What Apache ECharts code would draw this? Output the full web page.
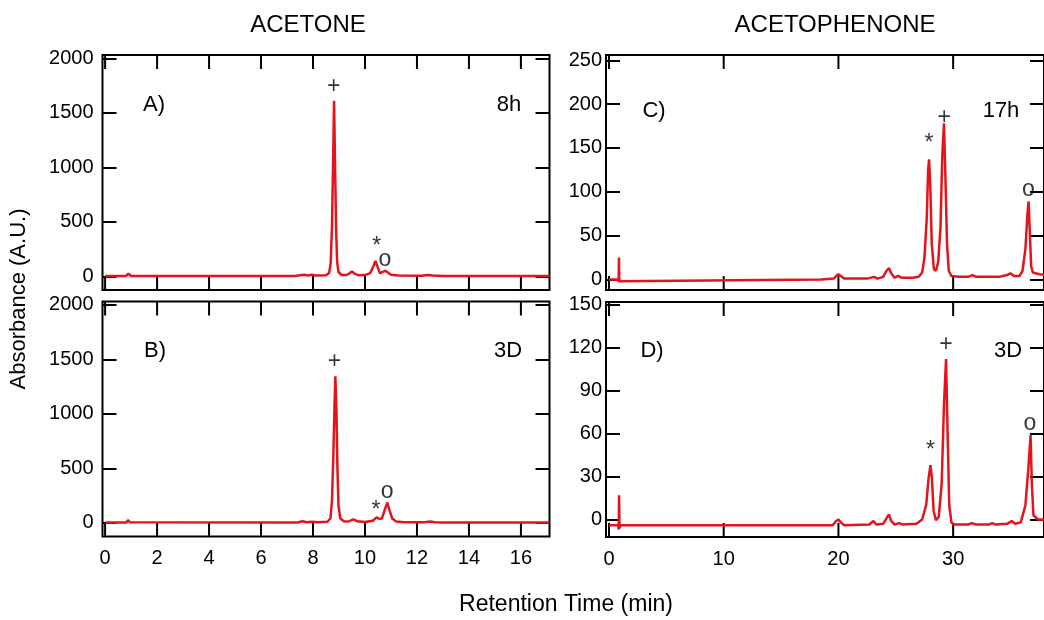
<!DOCTYPE html>
<html>
<head>
<meta charset="utf-8">
<script src="https://cdn.jsdelivr.net/npm/echarts@6/dist/echarts.min.js"></script>
<style>
  html, body { margin: 0; padding: 0; background: #fff; }
  #chart { width: 1044px; height: 620px; }
</style>
</head>
<body>
<div id="chart"></div>
<script>
// HPLC traces: [retention time (min), absorbance (A.U.)]
const acetone8h = [
  [0, 3], [0.8, 3], [0.85, 10], [0.9, 25], [0.95, 10], [1.0, 3],
  [7.3, 3], [7.5, 10], [7.65, 14], [7.8, 8], [7.95, 14], [8.1, 8], [8.5, 10],
  [8.62, 30], [8.68, 120], [8.73, 450], [8.77, 1000], [8.81, 1610], [8.85, 1000],
  [8.89, 420], [8.93, 130], [8.98, 40], [9.1, 12], [9.3, 12], [9.42, 30], [9.5, 45],
  [9.6, 25], [9.75, 10], [10.0, 12], [10.2, 30], [10.32, 90], [10.4, 141], [10.48, 90],
  [10.57, 30], [10.68, 40], [10.78, 52], [10.88, 35], [11.0, 15], [11.3, 8],
  [12.2, 6], [12.4, 12], [12.6, 8], [13.0, 3], [17.1, 3]
];
const acetone3d = [
  [0, 3], [0.82, 3], [0.88, 25], [0.95, 5], [1.0, 3],
  [7.4, 3], [7.6, 14], [7.75, 6], [7.95, 10], [8.2, 6], [8.55, 10],
  [8.67, 40], [8.73, 200], [8.78, 600], [8.83, 1100], [8.86, 1345], [8.9, 1050],
  [8.94, 500], [8.98, 160], [9.05, 40], [9.2, 12], [9.4, 15], [9.55, 32], [9.7, 15],
  [10.0, 8], [10.3, 20], [10.45, 50], [10.55, 35], [10.65, 40], [10.76, 120],
  [10.86, 185], [10.95, 110], [11.05, 40], [11.2, 12], [11.5, 5],
  [12.3, 5], [12.5, 12], [12.7, 5], [13.0, 3], [17.1, 3]
];
const acetophenone17h = [
  [0, 0], [0.8, 0], [0.84, -3], [0.87, 25], [0.9, -2], [0.95, 0],
  [18.5, 0], [19.6, 1], [19.8, 4], [20.0, 6], [20.2, 4], [20.5, 1],
  [22.5, 1], [23.1, 3], [23.4, 1], [23.9, 3], [24.2, 10], [24.4, 13], [24.6, 7],
  [24.9, 2], [25.2, 4], [25.5, 2], [26.5, 2], [27.0, 3], [27.3, 8], [27.5, 25],
  [27.7, 70], [27.82, 125], [27.9, 137], [28.0, 110], [28.14, 40], [28.32, 12],
  [28.5, 10], [28.7, 20], [28.9, 60], [29.05, 140], [29.2, 178], [29.32, 120],
  [29.47, 40], [29.62, 10], [29.85, 4], [30.5, 3], [31.3, 3], [31.7, 5], [32.0, 3],
  [34.0, 3], [34.7, 5], [35.0, 7], [35.3, 4], [35.8, 4], [36.05, 10], [36.3, 35],
  [36.48, 75], [36.58, 89], [36.68, 55], [36.8, 15], [36.95, 8], [37.5, 6], [38.1, 5]
];
const acetophenone3d = [
  [0, -4], [0.8, -4], [0.85, -7], [0.88, 17], [0.92, -6], [1.0, -4],
  [19.5, -4], [19.8, -1], [20.0, 0], [20.2, -2], [20.5, -4],
  [22.7, -3.5], [23.05, -1], [23.3, -3.5], [23.9, -3], [24.2, 1], [24.4, 3.5],
  [24.6, -1], [24.9, -3.5], [25.3, -2.5], [25.6, -3.5], [26.8, -3], [27.3, 0],
  [27.65, 10], [27.85, 28], [28.02, 38], [28.14, 30], [28.3, 6], [28.5, -0.5],
  [28.75, 2], [29.0, 25], [29.2, 80], [29.38, 112], [29.52, 60], [29.66, 10],
  [29.85, -2], [30.1, -3.5], [31.3, -3.5], [31.6, -2.5], [32.0, -3.5],
  [33.1, -3.5], [33.4, -2.5], [33.7, -3.5], [34.7, -3], [35.1, -1], [35.4, -3],
  [35.9, -2], [36.3, 10], [36.55, 35], [36.75, 59], [36.86, 25], [37.0, 3],
  [37.4, 0], [38.1, 0]
];

// Peak markers: [symbol, time, absorbance]
const marksA = [['+', 8.8, 1740], ['*', 10.45, 275], ['o', 10.77, 150]];
const marksB = [['+', 8.83, 1480], ['*', 10.42, 115], ['o', 10.85, 290]];
const marksC = [['*', 27.9, 155], ['+', 29.22, 185], ['o', 36.55, 102]];
const marksD = [['*', 28.02, 48], ['+', 29.38, 122], ['o', 36.7, 67]];

// Tick values
const acetoneTimeTicks = [0, 2, 4, 6, 8, 10, 12, 14, 16];
const acetoneAbsTicks = [0, 500, 1000, 1500, 2000];
const acetophenoneTimeTicks = [0, 10, 20, 30];
const acetophenone17hAbsTicks = [0, 50, 100, 150, 200, 250];
const acetophenone3dAbsTicks = [0, 30, 60, 90, 120, 150];

// Text
const columnTitles = ['ACETONE', 'ACETOPHENONE'];
const panelTags = ['A)', 'B)', 'C)', 'D)'];
const panelTimes = ['8h', '3D', '17h', '3D'];
const xTitle = 'Retention Time (min)';
const yTitle = 'Absorbance (A.U.)';

const FONT = '"Liberation Sans", Arial, Helvetica, sans-serif';
const RED = '#e3141c';
const INK = '#000';
const TICK = 14;

const panels = [
  { grid: { left: 102.5, top: 55, width: 447, height: 235 }, xr: [-0.1, 17.1], yr: [-125, 2030],
    xt: acetoneTimeTicks, yt: acetoneAbsTicks, xLabels: false, yMargin: 9,
    data: acetone8h, marks: marksA, tag: [154, 105], time: [509, 105] },
  { grid: { left: 102.5, top: 301.5, width: 447, height: 235 }, xr: [-0.1, 17.1], yr: [-125, 2030],
    xt: acetoneTimeTicks, yt: acetoneAbsTicks, xLabels: true, yMargin: 9,
    data: acetone3d, marks: marksB, tag: [155, 351], time: [508, 351] },
  { grid: { left: 606, top: 55, width: 441, height: 235 }, xr: [-0.26, 37.92], yr: [-12, 256],
    xt: acetophenoneTimeTicks, yt: acetophenone17hAbsTicks, xLabels: false, yMargin: 4,
    data: acetophenone17h, marks: marksC, tag: [654, 111], time: [1001, 111] },
  { grid: { left: 606, top: 302, width: 441, height: 235 }, xr: [-0.26, 37.92], yr: [-12.2, 151.9],
    xt: acetophenoneTimeTicks, yt: acetophenone3dAbsTicks, xLabels: true, yMargin: 4,
    data: acetophenone3d, marks: marksD, tag: [652, 351], time: [1008, 351] }
];

const hiddenLine = { show: false, onZero: false };
const yTickStyle = (vals) => ({
  show: true, inside: true, length: TICK, customValues: vals,
  lineStyle: { color: INK, width: 2 }
});
const labelStyle = (vals, show, margin) => ({
  show: show, customValues: vals, margin: margin,
  formatter: (v) => String(Math.round(v)),
  fontSize: 20, color: INK, fontFamily: FONT
});

// Inward time ticks on the bottom and top edges of a panel frame
const renderTimeTicks = (params, api) => {
  const x = api.coord([api.value(0), api.value(1)])[0];
  const cs = params.coordSys;
  const st = { stroke: INK, lineWidth: 2 };
  const bottom = cs.y + cs.height;
  return {
    type: 'group',
    children: [
      { type: 'line', shape: { x1: x, y1: bottom, x2: x, y2: bottom - TICK }, style: st },
      { type: 'line', shape: { x1: x, y1: cs.y, x2: x, y2: cs.y + TICK }, style: st }
    ]
  };
};

const grids = [], xAxes = [], yAxes = [], series = [], graphics = [];

panels.forEach((p, i) => {
  grids.push(Object.assign({ show: true, borderColor: INK, borderWidth: 2,
    backgroundColor: 'transparent' }, p.grid));
  ['bottom', 'top'].forEach((pos, k) => {
    xAxes.push({
      type: 'value', gridIndex: i, position: pos, min: p.xr[0], max: p.xr[1],
      axisLine: hiddenLine, splitLine: { show: false },
      axisTick: { show: false },
      axisLabel: labelStyle(p.xt, k === 0 && p.xLabels, 12)
    });
  });
  ['left', 'right'].forEach((pos, k) => {
    yAxes.push({
      type: 'value', gridIndex: i, position: pos, min: p.yr[0], max: p.yr[1],
      axisLine: hiddenLine, splitLine: { show: false },
      axisTick: yTickStyle(p.yt),
      axisLabel: labelStyle(p.yt, k === 0, p.yMargin)
    });
  });
  series.push({
    type: 'custom', xAxisIndex: 2 * i, yAxisIndex: 2 * i, silent: true, clip: false,
    data: p.xt.map(v => [v, p.yr[0]]), encode: { x: 0, y: 1 },
    renderItem: renderTimeTicks, z: 2
  });
  series.push({
    type: 'line', xAxisIndex: 2 * i, yAxisIndex: 2 * i, data: p.data,
    showSymbol: false, symbol: 'none', clip: true, silent: true,
    lineStyle: { color: RED, width: 2.5 }, z: 3
  });
  series.push({
    type: 'scatter', xAxisIndex: 2 * i, yAxisIndex: 2 * i, symbolSize: 0, silent: true,
    data: p.marks.map(m => ({ name: m[0], value: [m[1], m[2]] })),
    label: { show: true, position: 'inside', formatter: '{b}', fontSize: 23,
      color: INK, fontFamily: FONT },
    z: 4
  });
  graphics.push({ type: 'text', x: p.tag[0], y: p.tag[1],
    style: { text: panelTags[i], font: '22px ' + FONT, fill: INK,
      textAlign: 'center', textVerticalAlign: 'middle' } });
  graphics.push({ type: 'text', x: p.time[0], y: p.time[1],
    style: { text: panelTimes[i], font: '22px ' + FONT, fill: INK,
      textAlign: 'center', textVerticalAlign: 'middle' } });
});

graphics.push({ type: 'text', x: 308, y: 25,
  style: { text: columnTitles[0], font: '24px ' + FONT, fill: INK,
    textAlign: 'center', textVerticalAlign: 'middle' } });
graphics.push({ type: 'text', x: 835, y: 25,
  style: { text: columnTitles[1], font: '24px ' + FONT, fill: INK,
    textAlign: 'center', textVerticalAlign: 'middle' } });
graphics.push({ type: 'text', x: 566, y: 605,
  style: { text: xTitle, font: '23px ' + FONT, fill: INK,
    textAlign: 'center', textVerticalAlign: 'middle' } });
graphics.push({ type: 'text', x: 19, y: 299, rotation: Math.PI / 2,
  style: { text: yTitle, font: '22px ' + FONT, fill: INK,
    textAlign: 'center', textVerticalAlign: 'middle' } });

const chart = echarts.init(document.getElementById('chart'), null, { renderer: 'canvas' });
chart.setOption({
  animation: false,
  backgroundColor: '#fff',
  grid: grids,
  xAxis: xAxes,
  yAxis: yAxes,
  series: series,
  graphic: graphics
});
</script>
</body>
</html>
